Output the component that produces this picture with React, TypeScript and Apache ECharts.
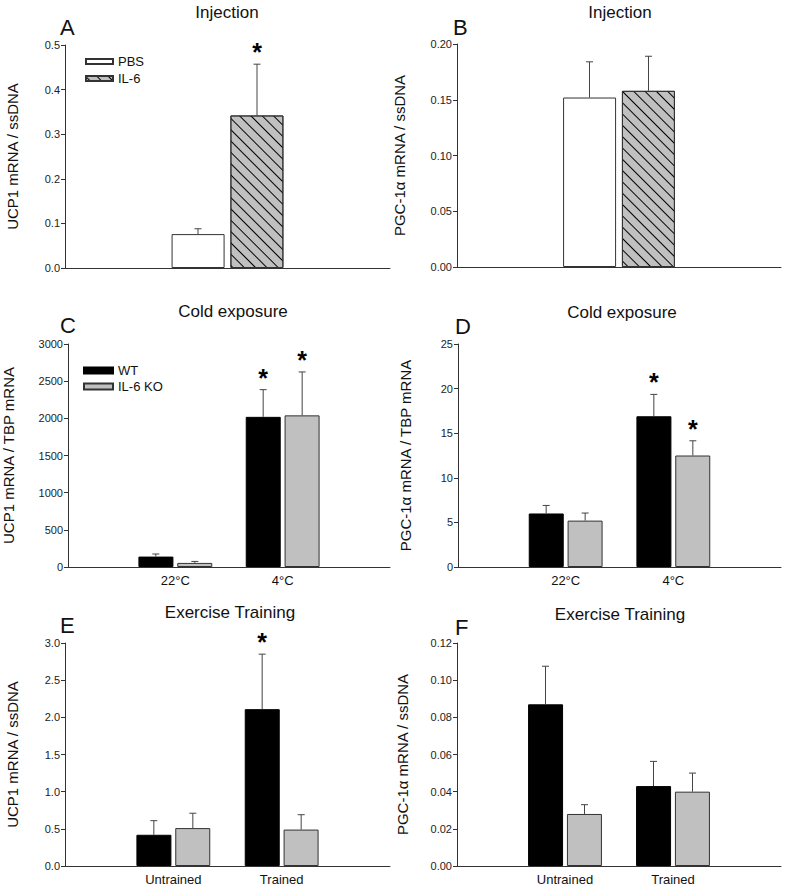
import React, { useEffect, useRef } from 'react';
import * as echarts from 'echarts';

// ---------- data ----------
const injCategories = [''];
const tempCategories = ['', '22°C', '4°C', ''];
const trainCategories = ['', 'Untrained', 'Trained', ''];

const injNames = ['PBS', 'IL-6'];
const genoNames = ['WT', 'IL-6 KO'];

// Panel A: UCP1 (injection)
const aPBS = [0.076];
const aPBSErr = [0.012];
const aIL6 = [0.342];
const aIL6Err = [0.115];
const aPBSSig = [0];
const aIL6Sig = [1];

// Panel B: PGC-1α (injection)
const bPBS = [0.152];
const bPBSErr = [0.032];
const bIL6 = [0.158];
const bIL6Err = [0.031];
const bPBSSig = [0];
const bIL6Sig = [0];

// Panel C: UCP1 (cold exposure) [22°C, 4°C]
const cWT = [140, 2020];
const cWTErr = [35, 366];
const cKO = [55, 2040];
const cKOErr = [20, 584];
const cWTSig = [0, 1];
const cKOSig = [0, 1];

// Panel D: PGC-1α (cold exposure)
const dWT = [6.0, 16.9];
const dWTErr = [0.9, 2.45];
const dKO = [5.2, 12.5];
const dKOErr = [0.85, 1.65];
const dWTSig = [0, 1];
const dKOSig = [0, 1];

// Panel E: UCP1 (exercise training) [Untrained, Trained]
const eWT = [0.42, 2.11];
const eWTErr = [0.19, 0.74];
const eKO = [0.51, 0.49];
const eKOErr = [0.2, 0.2];
const eWTSig = [0, 1];
const eKOSig = [0, 0];

// Panel F: PGC-1α (exercise training)
const fWT = [0.087, 0.043];
const fWTErr = [0.0205, 0.0133];
const fKO = [0.028, 0.04];
const fKOErr = [0.005, 0.01];
const fWTSig = [0, 0];
const fKOSig = [0, 0];

// y axis ticks
const yA = { max: 0.5, interval: 0.1, digits: 1 };
const yB = { max: 0.2, interval: 0.05, digits: 2 };
const yC = { max: 3000, interval: 500, digits: 0 };
const yD = { max: 25, interval: 5, digits: 0 };
const yE = { max: 3, interval: 0.5, digits: 1 };
const yF = { max: 0.12, interval: 0.02, digits: 2 };

// ---------- style ----------
const FONT = '"Liberation Sans", Arial, sans-serif';
const AXIS_COLOR = '#333';
const ERR_COLOR = '#444';

const grids = [
  { left: 65, top: 45, width: 325, height: 223 },
  { left: 457, top: 44, width: 324, height: 223 },
  { left: 65, top: 344, width: 325, height: 223 },
  { left: 458, top: 344, width: 323, height: 223 },
  { left: 65, top: 643, width: 325, height: 223 },
  { left: 457, top: 643, width: 324, height: 223 },
];

const hatchDecal = {
  symbol: 'rect',
  symbolSize: 1,
  color: '#000',
  dashArrayX: [1, 0],
  dashArrayY: [1, 7],
  rotation: Math.PI / 4,
};

function padded(vals: number[]) {
  return ['-', ...vals, '-'];
}

function errData(vals: number[], errs: number[], sigs: number[], startIdx: number) {
  return vals.map((v, i) => [startIdx + i, v, errs[i], sigs[i]]);
}

function errSeries(gridIdx: number, offset: number, data: any[]) {
  return {
    type: 'custom',
    xAxisIndex: gridIdx,
    yAxisIndex: gridIdx,
    clip: false,
    z: 5,
    silent: true,
    encode: { x: 0, y: 1 },
    data,
    renderItem: (params: any, api: any) => {
      const cat = api.value(0);
      const v = api.value(1);
      const e = api.value(2);
      const sig = api.value(3);
      const base = api.coord([cat, v]);
      const top = api.coord([cat, v + e]);
      const x = base[0] + offset;
      const children: any[] = [
        {
          type: 'line',
          shape: { x1: x, y1: base[1], x2: x, y2: top[1] },
          style: { stroke: ERR_COLOR, lineWidth: 1 },
        },
        {
          type: 'line',
          shape: { x1: x - 3.5, y1: top[1], x2: x + 3.5, y2: top[1] },
          style: { stroke: ERR_COLOR, lineWidth: 1 },
        },
      ];
      if (sig) {
        children.push({
          type: 'text',
          style: {
            text: '*',
            x: x,
            y: top[1] - 12,
            textAlign: 'center',
            textVerticalAlign: 'middle',
            font: `bold 25px ${FONT}`,
            fill: '#000',
          },
        });
      }
      return { type: 'group', children };
    },
  };
}

function yAxisFor(gridIdx: number, cfg: any, name: string, nameGap: number) {
  return {
    type: 'value',
    gridIndex: gridIdx,
    min: 0,
    max: cfg.max,
    interval: cfg.interval,
    name,
    nameLocation: 'middle',
    nameGap,
    nameTextStyle: { fontFamily: FONT, fontSize: 15, color: '#111' },
    axisLine: { show: true, lineStyle: { color: AXIS_COLOR, width: 1 } },
    axisTick: { show: true, length: 4, lineStyle: { color: AXIS_COLOR } },
    splitLine: { show: false },
    axisLabel: {
      fontFamily: FONT,
      fontSize: 11,
      color: '#222',
      margin: 5,
      formatter: (v: number) => v.toFixed(cfg.digits),
    },
  };
}

function xAxisFor(gridIdx: number, cats: string[], showLabels: boolean, boundaryGap: boolean) {
  return {
    type: 'category',
    gridIndex: gridIdx,
    data: cats,
    boundaryGap,
    axisLine: { show: true, lineStyle: { color: AXIS_COLOR, width: 1 } },
    axisTick: { show: false },
    axisLabel: {
      show: showLabels,
      interval: 0,
      fontFamily: FONT,
      fontSize: 13,
      color: '#111',
      margin: 7,
    },
  };
}

function genoBars(gridIdx: number, wt: number[], ko: number[]) {
  return [
    {
      type: 'bar',
      name: genoNames[0],
      xAxisIndex: gridIdx,
      yAxisIndex: gridIdx,
      data: padded(wt),
      barWidth: 35,
      barGap: '11%',
      itemStyle: { color: '#000', borderColor: '#000', borderWidth: 1 },
    },
    {
      type: 'bar',
      name: genoNames[1],
      xAxisIndex: gridIdx,
      yAxisIndex: gridIdx,
      data: padded(ko),
      barWidth: 35,
      barGap: '11%',
      itemStyle: { color: '#c0c0c0', borderColor: '#333', borderWidth: 1 },
    },
  ];
}

function injBars(gridIdx: number, pbs: number[], il6: number[]) {
  return [
    {
      type: 'bar',
      name: injNames[0],
      xAxisIndex: gridIdx,
      yAxisIndex: gridIdx,
      data: pbs,
      barWidth: 53,
      barGap: '11%',
      itemStyle: { color: '#ffffff', borderColor: '#333', borderWidth: 1 },
    },
    {
      type: 'bar',
      name: injNames[1],
      xAxisIndex: gridIdx,
      yAxisIndex: gridIdx,
      data: il6,
      barWidth: 53,
      barGap: '11%',
      itemStyle: { color: '#c0c0c0', borderColor: '#333', borderWidth: 1, decal: hatchDecal },
    },
  ];
}

const INJ_OFF = 29.5;
const GENO_OFF = 19.5;

function textEl(text: string, x: number, y: number, size: number, align = 'center') {
  return {
    type: 'text',
    x,
    y,
    style: {
      text,
      textAlign: align,
      textVerticalAlign: 'middle',
      font: `${size}px ${FONT}`,
      fill: '#111',
    },
  };
}

export default function App() {
  const ref = useRef<HTMLDivElement>(null);
  useEffect(() => {
    if (!ref.current) return;
    const chart = echarts.init(ref.current, null as any, { renderer: 'svg' });
    const option: any = {
      animation: false,
      backgroundColor: '#ffffff',
      grid: grids.map((g) => ({ ...g, containLabel: false })),
      xAxis: [
        xAxisFor(0, injCategories, false, true),
        xAxisFor(1, injCategories, false, true),
        xAxisFor(2, tempCategories, true, false),
        xAxisFor(3, tempCategories, true, false),
        xAxisFor(4, trainCategories, true, false),
        xAxisFor(5, trainCategories, true, false),
      ],
      yAxis: [
        yAxisFor(0, yA, 'UCP1 mRNA / ssDNA', 45),
        yAxisFor(1, yB, 'PGC-1α mRNA / ssDNA', 50),
        yAxisFor(2, yC, 'UCP1 mRNA / TBP mRNA', 52),
        yAxisFor(3, yD, 'PGC-1α mRNA / TBP mRNA', 45),
        yAxisFor(4, yE, 'UCP1 mRNA / ssDNA', 45),
        yAxisFor(5, yF, 'PGC-1α mRNA / ssDNA', 47),
      ],
      legend: [
        {
          data: injNames,
          orient: 'vertical',
          left: 80,
          top: 50,
          itemWidth: 27,
          itemHeight: 5,
          itemGap: 4,
          icon: 'rect',
          selectedMode: false,
          textStyle: { fontFamily: FONT, fontSize: 13, color: '#111' },
        },
        {
          data: genoNames,
          orient: 'vertical',
          left: 78,
          top: 359,
          itemWidth: 29,
          itemHeight: 6,
          itemGap: 3,
          icon: 'rect',
          selectedMode: false,
          textStyle: { fontFamily: FONT, fontSize: 13, color: '#111' },
        },
      ],
      graphic: [
        textEl('Injection', 227, 12, 17),
        textEl('Injection', 620, 12, 17),
        textEl('Cold exposure', 233, 311, 17),
        textEl('Cold exposure', 622, 312, 17),
        textEl('Exercise Training', 230, 612, 17),
        textEl('Exercise Training', 620, 614, 17),
        textEl('A', 60, 27, 22, 'left'),
        textEl('B', 453, 27, 22, 'left'),
        textEl('C', 60, 325, 22, 'left'),
        textEl('D', 455, 326, 22, 'left'),
        textEl('E', 60, 625, 22, 'left'),
        textEl('F', 455, 627, 22, 'left'),
      ],
      series: [
        ...injBars(0, aPBS, aIL6),
        errSeries(0, -INJ_OFF, errData(aPBS, aPBSErr, aPBSSig, 0)),
        errSeries(0, INJ_OFF, errData(aIL6, aIL6Err, aIL6Sig, 0)),
        ...injBars(1, bPBS, bIL6),
        errSeries(1, -INJ_OFF, errData(bPBS, bPBSErr, bPBSSig, 0)),
        errSeries(1, INJ_OFF, errData(bIL6, bIL6Err, bIL6Sig, 0)),
        ...genoBars(2, cWT, cKO),
        errSeries(2, -GENO_OFF, errData(cWT, cWTErr, cWTSig, 1)),
        errSeries(2, GENO_OFF, errData(cKO, cKOErr, cKOSig, 1)),
        ...genoBars(3, dWT, dKO),
        errSeries(3, -GENO_OFF, errData(dWT, dWTErr, dWTSig, 1)),
        errSeries(3, GENO_OFF, errData(dKO, dKOErr, dKOSig, 1)),
        ...genoBars(4, eWT, eKO),
        errSeries(4, -GENO_OFF, errData(eWT, eWTErr, eWTSig, 1)),
        errSeries(4, GENO_OFF, errData(eKO, eKOErr, eKOSig, 1)),
        ...genoBars(5, fWT, fKO),
        errSeries(5, -GENO_OFF, errData(fWT, fWTErr, fWTSig, 1)),
        errSeries(5, GENO_OFF, errData(fKO, fKOErr, fKOSig, 1)),
      ],
    };
    chart.setOption(option);
    return () => chart.dispose();
  }, []);
  return (
    <div
      ref={ref}
      style={{ position: 'absolute', left: 0, top: 0, width: 787, height: 892, background: '#fff' }}
    />
  );
}
